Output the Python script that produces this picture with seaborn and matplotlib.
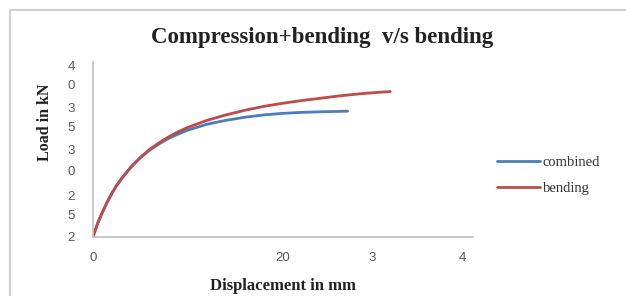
import matplotlib
matplotlib.use("Agg")
import matplotlib.pyplot as plt
from matplotlib.lines import Line2D
import pandas as pd
import seaborn as sns

# values
disp_combined = [0, 0.5, 1, 1.5, 2, 2.5, 3, 4, 5, 6, 7, 8, 9, 10, 12, 14, 16, 18, 20, 22, 24, 26.8]
load_combined = [0, 3.6, 6.4, 9.0, 11.3, 13.3, 15.0, 18.0, 20.4, 22.4, 24.0, 25.4, 26.5, 27.5,
                 29.0, 30.0, 30.8, 31.4, 31.8, 32.05, 32.2, 32.35]
disp_bending = [0, 0.5, 1, 1.5, 2, 2.5, 3, 4, 5, 6, 7, 8, 9, 10, 12, 14, 16, 18, 20, 22, 24,
                26, 28, 30, 31.3]
load_bending = [0, 3.6, 6.4, 9.0, 11.3, 13.3, 15.0, 18.0, 20.5, 22.6, 24.3, 25.8, 27.1, 28.2,
                30.0, 31.4, 32.6, 33.6, 34.4, 35.1, 35.7, 36.3, 36.8, 37.2, 37.4]

x_tick_pos = [0, 20, 29.4, 38.9]
x_tick_labels = ["0", "20", "3", "4"]
y_tick_pos = [44.2, 39.1, 33.4, 28.3, 22.6, 17.2, 10.8, 5.7, 0.2]
y_tick_labels = ["4", "0", "3", "5", "3", "0", "2", "5", "2"]

series_names = ["combined", "bending"]
colors = {"combined": "#4a7ebb", "bending": "#be4b48"}

df = pd.concat([
    pd.DataFrame({"disp": disp_combined, "load": load_combined, "series": "combined"}),
    pd.DataFrame({"disp": disp_bending, "load": load_bending, "series": "bending"}),
])

sns.set_style("white")
plt.rcParams['font.family'] = ['Liberation Sans', 'DejaVu Sans']

fig = plt.figure(figsize=(6.26, 2.96), dpi=100)
ax = fig.add_axes([93 / 626, 1 - 237 / 296, 380 / 626, 175 / 296])

sns.lineplot(data=df, x="disp", y="load", hue="series", hue_order=series_names,
             palette=colors, sort=False, estimator=None, linewidth=2.0, ax=ax, legend=False)

ax.set_xlim(0, 40)
ax.set_ylim(0, 45)
ax.set_xticks(x_tick_pos)
ax.set_xticklabels(x_tick_labels)
ax.set_yticks(y_tick_pos)
ax.set_yticklabels(y_tick_labels)
ax.tick_params(axis="x", length=0, pad=11, labelsize=9.5, labelcolor="#595959")
ax.tick_params(axis="y", length=0, pad=13, labelsize=9.5, labelcolor="#595959")
ax.set_xlabel("")
ax.set_ylabel("")
for side in ["top", "right"]:
    ax.spines[side].set_visible(False)
for side in ["left", "bottom"]:
    ax.spines[side].set_color("#bfbfbf")
    ax.spines[side].set_linewidth(1.2)

# chart area border (cut off at right and bottom)
fig.add_artist(Line2D([10 / 626, 1], [1 - 10 / 296, 1 - 10 / 296], color="#d0d0d0", lw=1.5))
fig.add_artist(Line2D([10 / 626, 10 / 626], [0, 1 - 10 / 296], color="#d0d0d0", lw=1.5))

fig.text(322 / 626, 1 - 37 / 296, "Compression+bending  v/s bending", ha="center", va="center",
         fontsize=16.5, fontweight="bold", family="Liberation Serif", color="#222222")
fig.text(45 / 626, 1 - 122 / 296, "Load in kN", rotation=90, ha="center", va="center",
         fontsize=11.5, fontweight="bold", family="Liberation Serif", color="#222222")
fig.text(283 / 626, 1 - 290 / 296, "Displacement in mm", ha="center", va="baseline",
         fontsize=12, fontweight="bold", family="Liberation Serif", color="#222222")

handles = [Line2D([], [], color=colors[s], lw=2.0) for s in series_names]
leg = fig.legend(handles, series_names, loc="center left",
                 bbox_to_anchor=(497 / 626, 1 - 175.5 / 296), frameon=False,
                 borderpad=0, borderaxespad=0, handlelength=2.95, handletextpad=0.2,
                 labelspacing=0.85, prop={"family": "Liberation Serif", "size": 10.5})
for t in leg.get_texts():
    t.set_color("#333333")

fig.savefig("out.png", dpi=100)
